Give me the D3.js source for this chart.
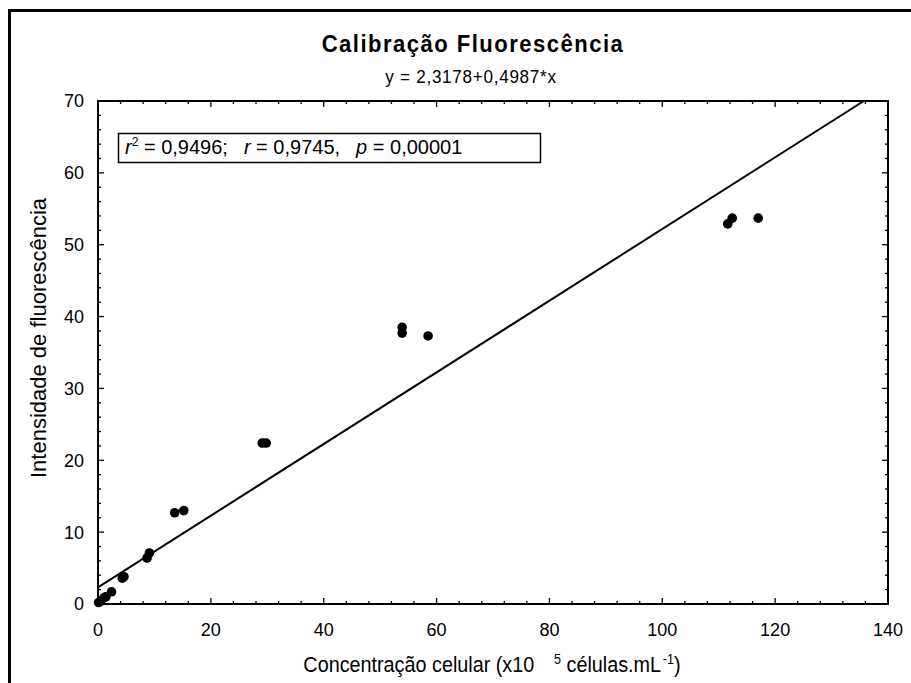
<!DOCTYPE html>
<html>
<head>
<meta charset="utf-8">
<script src="https://cdn.jsdelivr.net/npm/d3@7"></script>
<style>
  body { margin: 0; background: #fff; }
  svg { display: block; font-family: 'Liberation Sans', Arial, sans-serif; }
</style>
</head>
<body>
<div id="chart"></div>
<script>
// pontos (x10^5 celulas.mL-1 vs intensidade)
var concentracao = [0.1, 0.5, 1.1, 1.4, 2.4, 4.3, 4.6, 8.7, 9.1, 13.6, 15.2, 29.1, 29.8, 53.9, 53.9, 58.5, 111.6, 112.4, 117.0]
var fluorescencia = [0.2, 0.4, 0.9, 1.0, 1.7, 3.6, 3.8, 6.4, 7.1, 12.7, 13.0, 22.4, 22.4, 38.5, 37.7, 37.3, 52.9, 53.7, 53.7]

var intercepto = 2.3178
var inclinacao = 0.4987

var xTicks = [0, 20, 40, 60, 80, 100, 120, 140]
var yTicks = [0, 10, 20, 30, 40, 50, 60, 70]

var titulo = 'Calibração Fluorescência'
var equacao = 'y = 2,3178+0,4987*x'
var stats = [['r', '2', ' = 0,9496;'], ['r', '', ' = 0,9745,'], ['p', '', ' = 0,00001']]

var width = 911, height = 683
var margin = {left: 98, top: 101, right: 23, bottom: 79}

var svg = d3.select('#chart').append('svg')
  .attr('width', width)
  .attr('height', height)

// moldura externa (cortada a direita e embaixo)
svg.append('rect')
  .attr('x', 9.5).attr('y', 10.5)
  .attr('width', width + 20).attr('height', height + 20)
  .attr('fill', 'none').attr('stroke', '#000').attr('stroke-width', 3)

var x = d3.scaleLinear().domain([0, 140]).range([margin.left, width - margin.right])
var y = d3.scaleLinear().domain([0, 70]).range([height - margin.bottom, margin.top])

var g = svg.append('g')

// ticks internos nos quatro lados
var xMinor = d3.range(0, 140.1, 4)
var yMinor = d3.range(0, 70.1, 2)

function tickLen(v, step) { return v % step == 0 ? 6 : 3 }

g.selectAll('line.xb').data(xMinor).enter().append('line')
  .attr('x1', x).attr('x2', x)
  .attr('y1', y(0)).attr('y2', d => y(0) - tickLen(d, 20))
  .attr('stroke', '#000').attr('stroke-width', 1.3)
g.selectAll('line.xt').data(xMinor).enter().append('line')
  .attr('x1', x).attr('x2', x)
  .attr('y1', y(70)).attr('y2', d => y(70) + tickLen(d, 20))
  .attr('stroke', '#000').attr('stroke-width', 1.3)
g.selectAll('line.yl').data(yMinor).enter().append('line')
  .attr('y1', y).attr('y2', y)
  .attr('x1', x(0)).attr('x2', d => x(0) + tickLen(d, 10))
  .attr('stroke', '#000').attr('stroke-width', 1.3)
g.selectAll('line.yr').data(yMinor).enter().append('line')
  .attr('y1', y).attr('y2', y)
  .attr('x1', x(140)).attr('x2', d => x(140) - tickLen(d, 10))
  .attr('stroke', '#000').attr('stroke-width', 1.3)

g.append('rect')
  .attr('x', x(0)).attr('y', y(70))
  .attr('width', x(140) - x(0)).attr('height', y(0) - y(70))
  .attr('fill', 'none').attr('stroke', '#000').attr('stroke-width', 2)

// rotulos dos ticks
g.selectAll('text.xl').data(xTicks).enter().append('text')
  .attr('x', x).attr('y', y(0) + 32)
  .attr('text-anchor', 'middle')
  .attr('font-size', 18)
  .text(d => d)

g.selectAll('text.yl').data(yTicks).enter().append('text')
  .attr('x', x(0) - 14).attr('y', y)
  .attr('dy', '.36em')
  .attr('text-anchor', 'end')
  .attr('font-size', 18)
  .text(d => d)

// reta de regressao, cortada no topo
var xFim = Math.min(140, (70 - intercepto) / inclinacao)
g.append('line')
  .attr('x1', x(0)).attr('y1', y(intercepto))
  .attr('x2', x(xFim)).attr('y2', y(intercepto + inclinacao * xFim))
  .attr('stroke', '#000').attr('stroke-width', 2)

g.selectAll('circle').data(concentracao).enter().append('circle')
  .attr('cx', d => x(d))
  .attr('cy', (d, i) => y(fluorescencia[i]))
  .attr('r', 4.8)
  .attr('fill', '#000')

// titulo e equacao (fonte estreita: escala horizontal)
svg.append('text')
  .attr('transform', 'translate(473,52) scale(0.92,1)')
  .attr('text-anchor', 'middle')
  .attr('font-size', 24).attr('font-weight', 'bold')
  .attr('letter-spacing', 1.6)
  .text(titulo)

svg.append('text')
  .attr('transform', 'translate(471,83) scale(0.9,1)')
  .attr('text-anchor', 'middle')
  .attr('font-size', 19)
  .attr('letter-spacing', 0.8)
  .text(equacao)

// caixa de estatisticas
g.append('rect')
  .attr('x', 118.5).attr('y', 133.5)
  .attr('width', 422).attr('height', 29)
  .attr('fill', '#fff').attr('stroke', '#000').attr('stroke-width', 1.5)

var st = g.append('text')
  .attr('x', 125).attr('y', 154)
  .attr('font-size', 20)

stats.forEach((s, i) => {
  st.append('tspan').attr('dx', i ? 16 : 0).attr('font-style', 'italic').text(s[0])
  if (s[1]) st.append('tspan').attr('font-size', 12).attr('dy', -8).text(s[1])
  st.append('tspan').attr('dy', s[1] ? 8 : 0).text(s[2])
})

// titulos dos eixos
var xl = svg.append('text')
  .attr('transform', 'translate(492,672) scale(0.9,1)')
  .attr('text-anchor', 'middle')
  .attr('font-size', 22)
xl.append('tspan').text('Concentração celular (x10')
xl.append('tspan').attr('dx', 22).attr('dy', -8).attr('font-size', 14).text('5')
xl.append('tspan').attr('dy', 8).text(' células.mL')
xl.append('tspan').attr('dx', 2).attr('dy', -8).attr('font-size', 14).text('-1')
xl.append('tspan').attr('dy', 8).text(')')

svg.append('text')
  .attr('transform', 'translate(46,338) rotate(-90)')
  .attr('text-anchor', 'middle')
  .attr('font-size', 22)
  .text('Intensidade de fluorescência')
</script>
</body>
</html>
